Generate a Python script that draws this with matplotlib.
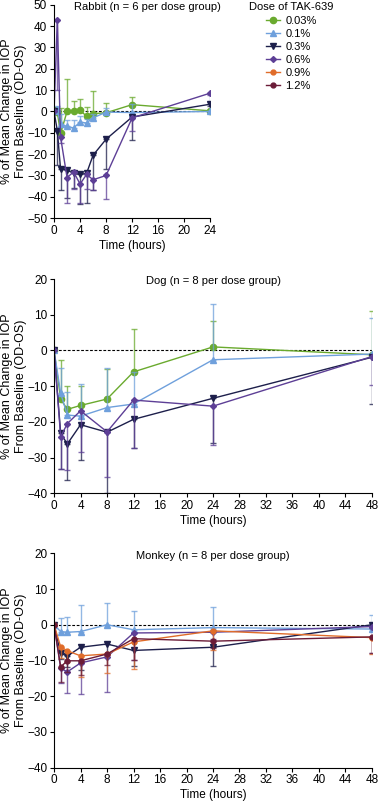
import numpy as np
import matplotlib
matplotlib.use('Agg')
import matplotlib.pyplot as plt
from matplotlib.lines import Line2D

plt.rcParams['font.family'] = ['Liberation Sans', 'DejaVu Sans']

# dose groups
doses = ['0.03%', '0.1%', '0.3%', '0.6%', '0.9%', '1.2%']
colors = ['#6aaa2e', '#6fa0dc', '#1d1f4b', '#5d3f96', '#e06c2a', '#6b1c38']
markers = ['o', '^', 'v', 'D', 'o', 'o']
msizes = [4.5, 4, 4, 3, 3.5, 3.5]

# Rabbit (n = 6)
rabbit_t = [0, 0.5, 1, 2, 3, 4, 5, 6, 8, 12, 24]
rabbit_mean = {
    '0.03%': [0.5, -0.3, -10.3, 0, 0, 0.5, -2.2, -1, -0.6, 3.2, 0.3],
    '0.1%': [0, 1, -6, -7, -7.7, -5, -5.4, -3, -0.3, -0.5, 0],
    '0.3%': [0, -9, -27, -27.5, -29, -29.5, -29, -20.5, -13, -2.6, 3.4],
    '0.6%': [0, 43, -12, -31, -28.3, -34, -29.5, -32, -30, -3, 8.6],
}
rabbit_err = {
    '0.03%': [0, 2, 12, 15, 5, 5.5, 4.5, 10.5, 4.5, 3.8, 0.5],
    '0.1%': [0, 1.5, 5, 3, 3.5, 3, 2, 2, 2, 4, 8],
    '0.3%': [0, 16, 10, 13, 7, 14, 14, 16.5, 14, 11, 1],
    '0.6%': [0, 33, 3, 12, 8, 9, 7, 5, 11, 6, 1],
}

# Dog (n = 8)
dog_t = [0, 1, 2, 4, 8, 12, 24, 48]
dog_mean = {
    '0.03%': [0, -13.6, -16.5, -15.4, -13.6, -6, 1, -1.2],
    '0.1%': [0, -12, -18.1, -18.4, -16, -15, -2.6, -1],
    '0.3%': [0, -23.2, -26.2, -20.8, -22.9, -19.3, -13.4, -1.9],
    '0.6%': [0, -24.2, -20.5, -16.9, -22.8, -13.9, -15.6, -1.7],
}
dog_err = {
    '0.03%': [0, 11, 6.5, 5.4, 8.3, 12, 7.2, 12.4],
    '0.1%': [0, 7, 6.5, 9, 11, 9, 15.6, 10],
    '0.3%': [0, 10, 10, 10, 17, 8, 12.6, 13],
    '0.6%': [0, 9, 13, 11.5, 12.6, 13.5, 11, 8],
}

# Monkey (n = 8)
monkey_t = [0, 1, 2, 4, 8, 12, 24, 48]
monkey_mean = {
    '0.1%': [0, -1.9, -2.1, -1.9, 0, -1.4, -0.8, -1.2],
    '0.3%': [0, -8, -8.8, -6.3, -5.4, -7.2, -6.3, 0],
    '0.6%': [0, -12.2, -13.2, -10.7, -9, -2.3, -2.1, -0.5],
    '0.9%': [0, -6.2, -7.3, -8.7, -8.2, -4.8, -1.7, -3.6],
    '1.2%': [0, -11.8, -10.1, -10.1, -8.2, -3.9, -4.6, -3.4],
}
monkey_err = {
    '0.1%': [0, 3.9, 4.4, 7.4, 6.2, 5.2, 5.8, 3.8],
    '0.3%': [0, 1.5, 3, 6.4, 3, 4.3, 5.2, 1],
    '0.6%': [0, 4, 5.8, 8.8, 9.8, 7.7, 2, 7.5],
    '0.9%': [0, 3, 3, 5.8, 5.3, 7.7, 5.3, 4.7],
    '1.2%': [0, 4.2, 3, 4, 3, 6, 2, 4.5],
}

# error bars drawn one-sided: up for low doses, down for the rest
err_up = {'0.03%': True, '0.1%': True}


def draw_panel(ax, t, means, errs, title, title_x, ylim, xmax):
    for d, c, m, ms in zip(doses, colors, markers, msizes):
        if d not in means:
            continue
        e = np.array(errs[d])
        z = np.zeros_like(e)
        yerr = [z, e] if err_up.get(d, False) else [e, z]
        ax.errorbar(t, means[d], yerr=yerr, fmt='none', ecolor=c, elinewidth=1.0,
                    capsize=2.5, capthick=1.0, alpha=0.75)
        ax.plot(t, means[d], color=c, marker=m, markersize=ms, linewidth=1.0)
    ax.axhline(0, color='black', linestyle=(0, (2.5, 1.5)), linewidth=0.8, zorder=0)
    ax.set_xlim(0, xmax)
    ax.set_ylim(*ylim)
    ax.set_xticks(range(0, xmax + 1, 4))
    yt = list(range(ylim[0], ylim[1] + 1, 10))
    ax.set_yticks(yt)
    ax.set_yticklabels([str(v).replace('-', '\u2212') for v in yt])
    for s in ['top', 'right']:
        ax.spines[s].set_visible(False)
    ax.tick_params(direction='out', length=3, labelsize=8.5, pad=2)
    ax.set_xlabel('Time (hours)', fontsize=8.5, labelpad=2)
    ax.set_ylabel('% of Mean Change in IOP\nFrom Baseline (OD-OS)', fontsize=9)
    pos = ax.get_position()
    ax.yaxis.set_label_coords((27 / 378 - pos.x0) / pos.width, 0.5)
    ax.text(title_x, 0.99, title, transform=ax.transAxes, ha='center', va='center', fontsize=8)


fig = plt.figure(figsize=(3.78, 8.02), dpi=100)
ax1 = fig.add_axes([0.143, 0.728, 0.413, 0.266])
ax2 = fig.add_axes([0.143, 0.385, 0.841, 0.267])
ax3 = fig.add_axes([0.143, 0.043, 0.841, 0.267])

draw_panel(ax1, rabbit_t, rabbit_mean, rabbit_err, 'Rabbit (n = 6 per dose group)', 0.6, (-50, 50), 24)
draw_panel(ax2, dog_t, dog_mean, dog_err, 'Dog (n = 8 per dose group)', 0.5, (-40, 20), 48)
draw_panel(ax3, monkey_t, monkey_mean, monkey_err, 'Monkey (n = 8 per dose group)', 0.5, (-40, 20), 48)

handles = [Line2D([], [], color=c, marker=m, markersize=ms, linewidth=1.0)
           for c, m, ms in zip(colors, markers, msizes)]
leg = fig.legend(handles, doses, loc='upper left',
                 bbox_to_anchor=(0.655, 0.999), frameon=False, fontsize=8,
                 title='Dose of TAK-639', title_fontsize=8, handlelength=1.2,
                 handletextpad=0.5, labelspacing=0.28, borderpad=0.05,
                 borderaxespad=0.1)

fig.savefig('out.png', dpi=100)
